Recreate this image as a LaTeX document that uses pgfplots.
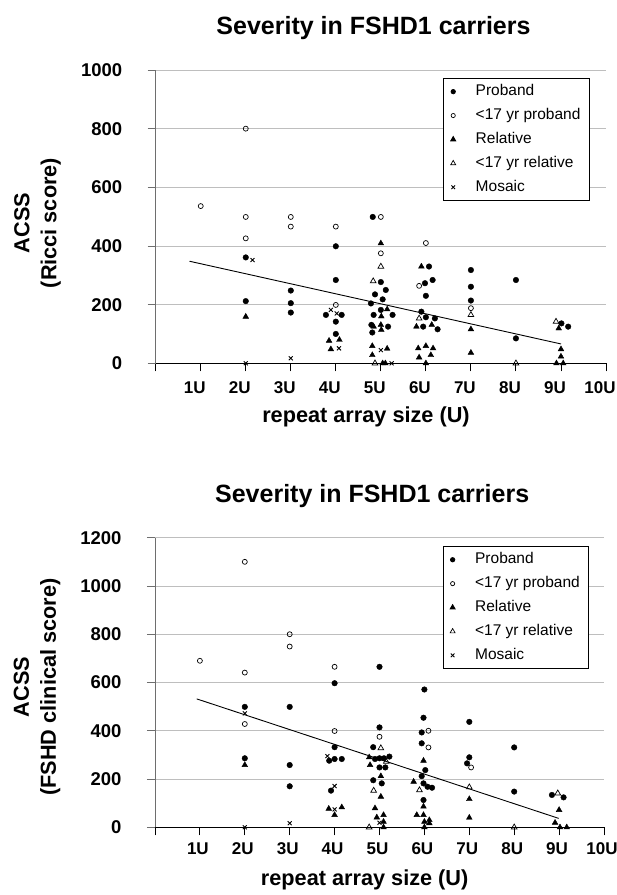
\documentclass[border=0pt]{standalone}
\usepackage{fontspec}
\setmainfont{Liberation Sans}
\usepackage{pgfplots}
\pgfplotsset{compat=1.18}
\definecolor{gridgray}{RGB}{190,190,190}
\definecolor{yaxgray}{RGB}{110,110,110}
\pgfplotsset{
 fshd/.style={
  scale only axis, clip=false,
  xmin=0, xmax=10, ymin=0,
  axis x line=bottom, axis y line=left, axis line style={-},
  x axis line style={black, line width=0.9pt},
  y axis line style={yaxgray, line width=0.9pt},
  xtick={0,1,...,10}, xticklabels={,1U,2U,3U,4U,5U,6U,7U,8U,9U,10U},
  tick align=outside, major tick length=8pt,
  xtick style={black, line width=0.9pt},
  ytick style={yaxgray, line width=0.9pt},
  ymajorgrids, grid style={gridgray, line width=0.8pt},
  /pgf/number format/assume math mode=true,
  /pgf/number format/1000 sep={},
  xticklabel style={font=\bfseries\fontsize{17}{17}\selectfont, anchor=base},
  yticklabel style={font=\bfseries\fontsize{18.5}{18.5}\selectfont, anchor=east, xshift=-22pt},
  title style={font=\bfseries\fontsize{25}{25}\selectfont, at={(axis description cs:0.4837,1)}, anchor=base, yshift=29.5pt},
  xlabel style={font=\bfseries\fontsize{21.7}{21.7}\selectfont, at={(axis description cs:0.467,0)}, anchor=base},
  ylabel style={font=\bfseries\fontsize{21.7}{27}\selectfont, align=center, anchor=center},
  legend cell align=left,
  legend style={anchor=north west, draw=black, line width=0.8pt,
    font=\fontsize{15.5}{18}\selectfont,
    inner xsep=7pt, inner ysep=1pt, row sep=0pt,
    cells={anchor=west},
    nodes={inner ysep=4.6pt, text height=11.3pt, text depth=3.4pt},
    /tikz/every odd column/.append style={column sep=18pt}},
 },
 proband/.style={only marks, black, mark=*, mark size=2.8pt,
   legend image code/.code={\draw[##1, mark size=2.2pt] plot coordinates {(0pt,0pt)};}},
 youngp/.style={only marks, black, mark=o, mark size=2.5pt, mark options={line width=0.7pt},
   legend image code/.code={\draw[##1, mark size=2.1pt] plot coordinates {(0pt,0pt)};}},
 relative/.style={only marks, black, mark=triangle*, mark size=3.3pt,
   legend image code/.code={\draw[##1, mark size=2.9pt] plot coordinates {(0pt,0pt)};}},
 youngr/.style={only marks, black, mark=triangle, mark size=3.3pt, mark options={line width=0.7pt},
   legend image code/.code={\draw[##1, mark size=2.9pt] plot coordinates {(0pt,0pt)};}},
 mosaic/.style={only marks, black, mark=x, mark size=2.8pt, mark options={line width=0.9pt},
   legend image code/.code={\draw[##1, mark size=2.6pt] plot coordinates {(0pt,0pt)};}},
}
\begin{document}
\begin{tikzpicture}
\useasboundingbox (0,0) rectangle (617pt,895pt);
% ---------------- top: Ricci score ----------------
\begin{axis}[fshd, at={(155.7pt,531.7pt)}, anchor=south west,
  width=450.3pt, height=293.3pt, ymax=1000, ytick={0,200,...,1000},
  title={Severity in FSHD1 carriers},
  xlabel={repeat array size (U)}, xlabel style={yshift=-59.7pt},
  xticklabel style={xshift=-6pt, yshift=-22.2pt},
  ylabel={ACSS\\(Ricci score)}, ylabel style={at={(axis description cs:-0.2625,0.478)}},
  legend style={at={(0.6387,0.9717)}}]
\addplot[proband] coordinates {
 (2.0,361) (2.0,212)
 (3.0,248) (3.0,205) (3.0,173)
 (4.0,399) (4.0,284) (3.78,165) (4.13,165) (4.0,142) (4.0,100)
 (4.82,499) (5.0,277) (5.11,250) (4.87,235) (5.04,218) (4.78,204) (5.0,182) (4.84,165) (5.26,165) (4.79,131) (5.16,125) (4.81,105)
 (6.07,330) (5.98,273) (6.15,284) (6.0,230) (5.9,176) (6.0,157) (6.2,153) (5.94,125) (6.26,116)
 (7.0,318) (7.0,261) (7.0,214)
 (8.0,284) (8.0,85)
 (9.01,136) (9.16,125)};
\addlegendentry{Proband}
\addplot[youngp] coordinates {
 (1.0,536) (2.0,800) (2.0,499) (2.0,426) (3.0,499) (3.0,466) (4.0,466) (4.0,199)
 (5.0,499) (5.0,375) (6.0,410) (5.85,264) (7.0,188)};
\addlegendentry{<17 yr proband}
\addplot[relative] coordinates {
 (2.0,159)
 (3.85,77) (4.08,80) (3.89,48)
 (5.0,409) (5.14,184) (5.01,160) (5.0,131) (5.01,114) (4.84,125) (4.81,59) (5.14,50) (4.81,28) (5.04,0) (5.1,0)
 (5.9,330) (5.79,125) (6.13,131) (5.83,51) (6.0,59) (6.16,51) (6.11,28) (5.85,20) (6.0,0)
 (7.0,116) (7.0,36)
 (8.95,119) (9.0,48) (9.0,23) (8.9,0) (9.05,0)};
\addlegendentry{Relative}
\addplot[youngr] coordinates {
 (5.0,330) (4.83,280) (4.87,0) (5.85,153) (7.0,165) (8.0,0) (8.89,142)};
\addlegendentry{<17 yr relative}
\addplot[mosaic] coordinates {
 (2.15,352) (2.0,0) (3.0,17) (3.89,182) (4.02,170) (4.07,51) (5.0,45) (5.24,0)};
\addlegendentry{Mosaic}
\addplot[forget plot, black, line width=0.9pt] coordinates {(0.75,348) (9.0,66)};
\end{axis}
% ---------------- bottom: FSHD clinical score ----------------
\begin{axis}[fshd, at={(155pt,67.7pt)}, anchor=south west,
  width=449pt, height=289.6pt, ymax=1200, ytick={0,200,...,1200},
  title={Severity in FSHD1 carriers},
  xlabel={repeat array size (U)}, xlabel style={yshift=-58.2pt},
  xticklabel style={xshift=-2pt, yshift=-19.2pt},
  ylabel={ACSS\\(FSHD clinical score)}, ylabel style={at={(axis description cs:-0.2628,0.484)}},
  legend style={at={(0.6408,0.970)}}]
\addplot[proband] coordinates {
 (2.0,499) (2.0,286)
 (3.0,499) (3.0,258) (3.0,170)
 (4.0,597) (4.0,332) (3.88,276) (4.0,283) (4.16,283) (3.92,152)
 (5.0,665) (5.0,414) (4.86,332) (4.9,283) (5.0,286) (5.1,286) (5.22,293) (5.0,248) (5.13,248) (4.86,195) (5.05,182)
 (6.0,571) (5.98,454) (5.94,393) (5.94,348) (6.02,237) (5.94,212) (5.98,182) (6.07,168) (6.17,164) (5.98,113)
 (7.0,437) (7.0,290) (6.95,265)
 (8.0,331) (8.0,148)
 (8.84,134) (9.1,124)};
\addlegendentry{Proband}
\addplot[youngp] coordinates {
 (1.0,690) (2.0,1100) (2.0,641) (2.0,428) (3.0,800) (3.0,749) (4.0,665) (4.0,399)
 (5.0,375) (6.09,400) (6.09,331) (7.04,248)};
\addlegendentry{<17 yr proband}
\addplot[relative] coordinates {
 (2.0,258) (3.87,77) (4.16,83) (4.0,51)
 (4.77,290) (4.79,258) (5.03,212) (5.03,127) (4.9,79) (5.09,51) (4.94,41) (5.09,23) (5.09,0)
 (5.98,276) (5.76,189) (5.98,86) (5.83,51) (5.98,51) (6.11,30) (6.0,23) (6.11,17) (6.0,0)
 (7.0,117) (7.0,40)
 (9.0,72) (8.91,19) (9.02,0) (9.17,0)};
\addlegendentry{Relative}
\addplot[youngr] coordinates {
 (5.03,328) (5.15,272) (4.87,152) (4.77,0) (5.89,154) (7.0,166) (8.0,0) (8.97,141)};
\addlegendentry{<17 yr relative}
\addplot[mosaic] coordinates {
 (2.0,472) (2.0,0) (3.0,17) (3.84,295) (4.0,171) (4.0,74) (5.0,19)};
\addlegendentry{Mosaic}
\addplot[forget plot, black, line width=0.9pt] coordinates {(0.93,532) (8.99,37)};
\end{axis}
\end{tikzpicture}
\end{document}
